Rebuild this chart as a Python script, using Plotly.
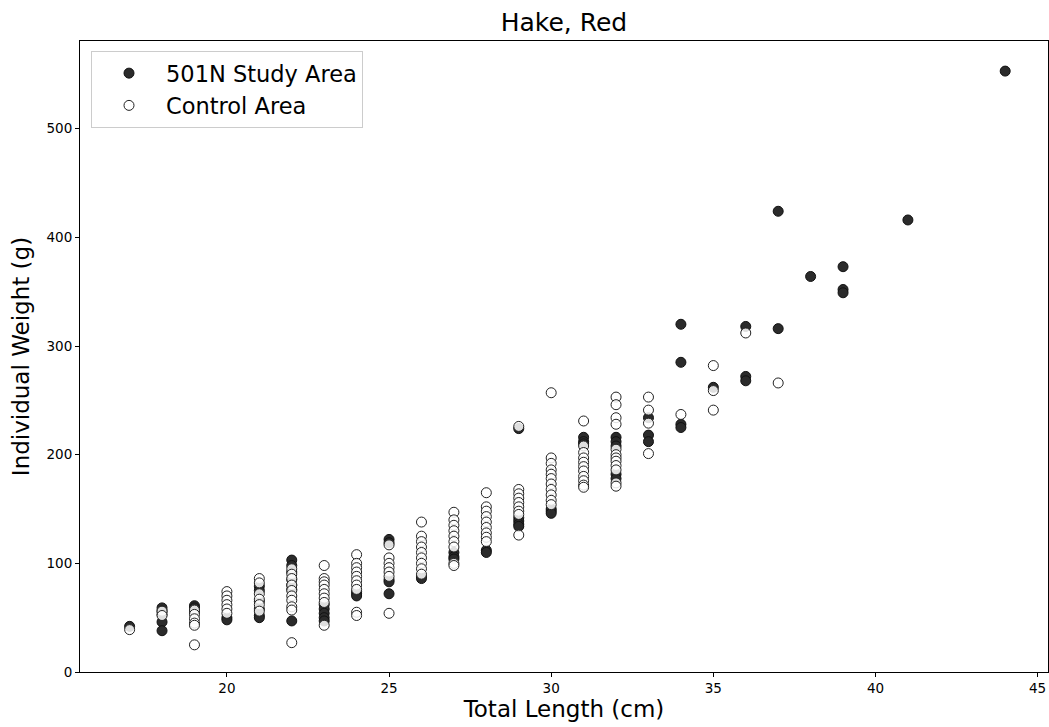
import plotly.graph_objects as go

# ---- data ----
study_length = (
    [17] + [18]*5 + [19]*3 + [20]*2 + [21]*6 + [22]*7 + [23]*5 + [24]*3 + [25]*5 +
    [26]*2 + [27]*3 + [28]*2 + [29]*5 + [30]*3 + [31]*3 + [32]*5 + [33]*3 + [34]*4 +
    [35] + [36]*3 + [37]*2 + [38] + [39]*3 + [41] + [44]
)
study_weight = [
    42,
    59, 56, 53, 46, 38,
    61, 59, 55,
    50, 48,
    79, 75, 65, 58, 52, 50,
    103, 98, 92, 85, 80, 76, 47,
    62, 58, 54, 50, 47,
    74, 72, 70,
    122, 119, 85, 83, 72,
    88, 86,
    110, 106, 104,
    112, 110,
    224, 142, 139, 136, 134,
    150, 148, 146,
    216, 212, 210,
    216, 212, 208, 182, 178,
    234, 218, 212,
    320, 285, 228, 225,
    262,
    318, 272, 268,
    424, 316,
    364,
    373, 352, 349,
    416,
    553,
]

control_length = (
    [17] + [18]*2 + [19]*6 + [20]*6 + [21]*6 + [22]*10 + [23]*9 + [24]*10 + [25]*7 +
    [26]*9 + [27]*9 + [28]*9 + [29]*9 + [30]*11 + [31]*11 + [32]*12 + [33]*4 + [34] +
    [35]*3 + [36] + [37]
)
control_weight = [
    39,
    56, 52,
    57, 53, 49, 45, 43, 25,
    74, 70, 66, 62, 58, 54,
    86, 82, 72, 67, 62, 56,
    95, 90, 86, 80, 75, 70, 66, 60, 57, 27,
    98, 86, 83, 80, 76, 72, 68, 64, 43,
    108, 100, 96, 92, 88, 84, 80, 76, 55, 52,
    117, 105, 100, 96, 92, 88, 54,
    138, 125, 120, 115, 110, 105, 100, 95, 90,
    147, 140, 135, 130, 125, 120, 115, 100, 98,
    165, 152, 148, 143, 138, 133, 128, 124, 120,
    226, 168, 164, 160, 156, 152, 148, 145, 126,
    257, 197, 192, 186, 182, 178, 173, 168, 163, 158, 154,
    231, 208, 202, 197, 193, 189, 185, 180, 176, 172, 170,
    253, 246, 234, 228, 205, 200, 197, 194, 190, 186, 174, 171,
    253, 241, 229, 201,
    237,
    282, 259, 241,
    312,
    266,
]

x_ticks = [20, 25, 30, 35, 40, 45]
y_ticks = [0, 100, 200, 300, 400, 500]

FONT = "DejaVu Sans"

fig = go.Figure()
fig.add_trace(go.Scatter(
    x=study_length, y=study_weight, mode="markers", name="501N Study Area",
    marker=dict(size=10, color="#2b2b2b", line=dict(color="#111111", width=1)),
))
fig.add_trace(go.Scatter(
    x=control_length, y=control_weight, mode="markers", name="Control Area",
    marker=dict(size=10, color="rgba(255,255,255,0.85)", line=dict(color="#222222", width=1)),
))

axis_common = dict(
    showline=True, linecolor="black", linewidth=1, mirror=True,
    ticks="outside", ticklen=4, tickcolor="black", tickwidth=1,
    showgrid=False, zeroline=False,
    tickfont=dict(family=FONT, size=13.5, color="black"),
)

fig.update_layout(
    width=1049, height=727,
    margin=dict(l=80, r=1, t=41, b=55),
    paper_bgcolor="white", plot_bgcolor="white",
    font=dict(family=FONT, color="black"),
    title=dict(text="Hake, Red", x=0.5, xanchor="center", y=1 - 22/727, yanchor="middle",
               xref="paper", font=dict(family=FONT, size=25, color="black")),
    xaxis=dict(range=[15.47, 45.32], tickvals=x_ticks,
               title=dict(text="Total Length (cm)", standoff=5,
                          font=dict(family=FONT, size=23, color="black")),
               **axis_common),
    yaxis=dict(range=[0, 580.7], tickvals=y_ticks,
               title=dict(text="Individual Weight (g)", standoff=10,
                          font=dict(family=FONT, size=23, color="black")),
               **axis_common),
    legend=dict(x=11/968, y=621/631, xanchor="left", yanchor="top",
                bordercolor="#cccccc", borderwidth=1, bgcolor="rgba(255,255,255,0.8)",
                font=dict(family=FONT, size=22.5, color="black"),
                itemsizing="trace", itemwidth=64),
    showlegend=True,
)

fig.write_html("out.html")
